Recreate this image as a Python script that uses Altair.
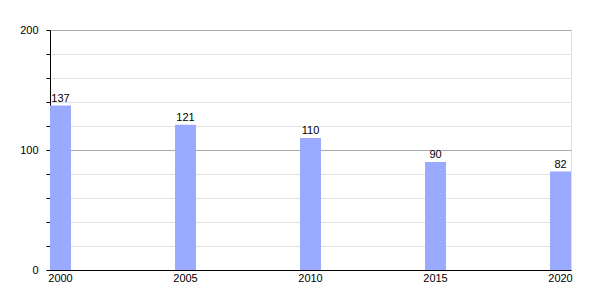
import altair as alt
import pandas as pd

years = ["2000", "2005", "2010", "2015", "2020"]
values = [137, 121, 110, 90, 82]
y_ticks = [0, 20, 40, 60, 80, 100, 120, 140, 160, 180, 200]

df = pd.DataFrame({"year": years, "value": values})

FONT = "Liberation Sans"

x = alt.X("year:N", sort=years, title=None,
          scale=alt.Scale(paddingInner=0.832, paddingOuter=0),
          axis=alt.Axis(labelAngle=0, ticks=False, domainColor="black",
                        labelColor="black", labelFont=FONT, labelFontSize=11,
                        labelPadding=2, grid=False))

y = alt.Y("value:Q", title=None,
          scale=alt.Scale(domain=[0, 200], nice=False),
          axis=alt.Axis(values=y_ticks,
                        labelExpr="datum.value % 100 == 0 ? datum.label : ''",
                        gridColor=alt.condition("datum.value % 100 == 0",
                                                alt.value("#aaaaaa"),
                                                alt.value("#e2e2e2")),
                        gridWidth=1,
                        domainColor="black", tickColor="black", tickSize=4,
                        labelColor="black", labelFont=FONT, labelFontSize=11,
                        labelPadding=8))

base = alt.Chart(df).encode(x=x, y=y)

bars = base.mark_bar(color="#99aaff")

labels = base.mark_text(baseline="bottom", dy=-2, font=FONT, fontSize=11,
                        color="black").encode(text=alt.Text("value:Q"))

chart = alt.layer(bars, labels).properties(
    width=521, height=240,
    autosize=alt.AutoSizeParams(type="none"),
    padding={"left": 50, "top": 30, "right": 29, "bottom": 30},
).configure_view(stroke=None).configure(background="white")

chart.save("out.html", embed_options={"renderer": "svg", "actions": False})
